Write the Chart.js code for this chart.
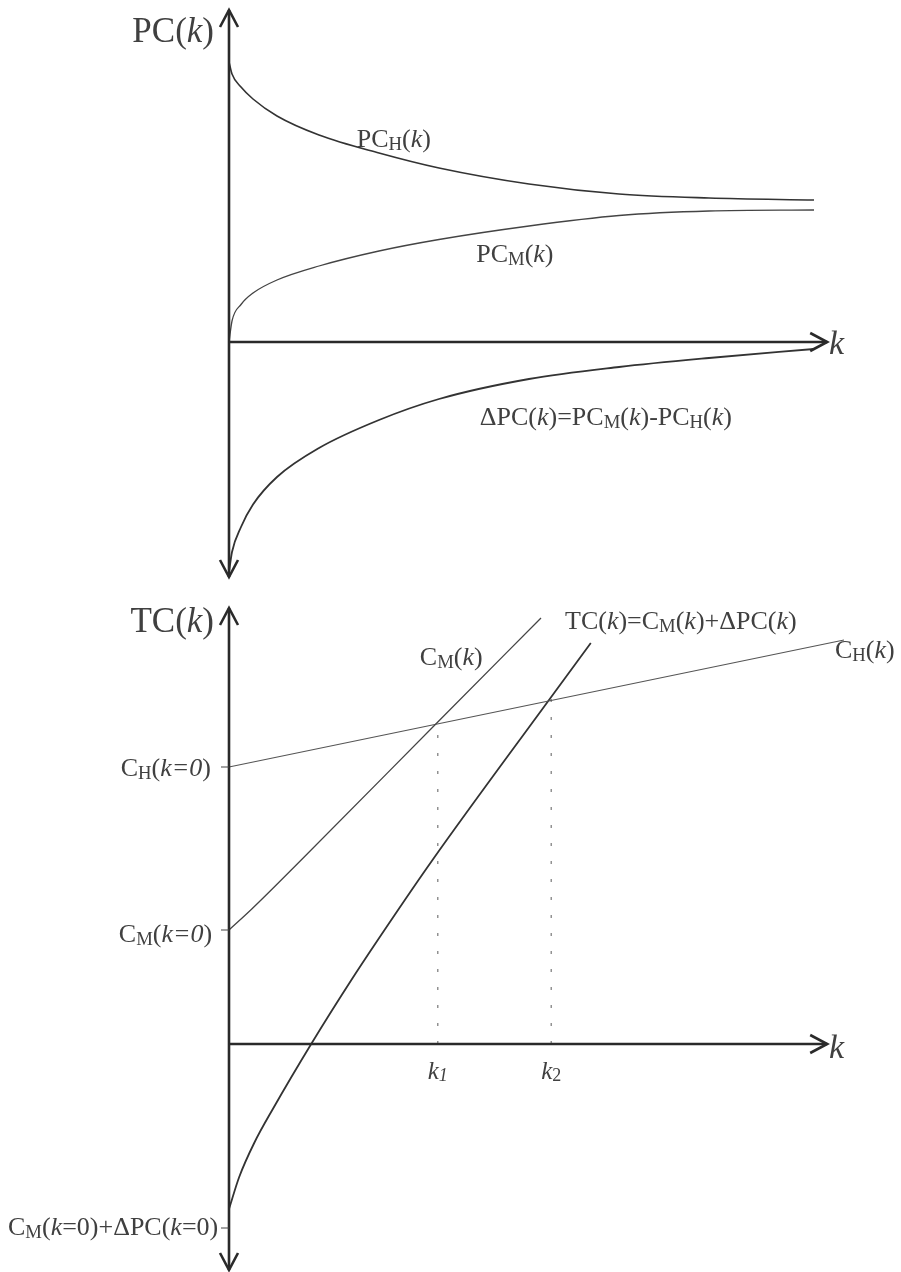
<!DOCTYPE html>
<html>
<head>
<meta charset="utf-8">
<title>PC(k) / TC(k)</title>
<script src="https://cdn.jsdelivr.net/npm/chart.js@4.4.1/dist/chart.umd.min.js"></script>
<style>
  body { margin: 0; background: #fff; }
  canvas { display: block; }
</style>
</head>
<body>
<canvas id="diagram" width="901" height="1272"></canvas>
<script>
// ---- upper panel: private cost curves ----
const kTop = [0, 0.05, 0.2, 0.4, 0.8, 1.5, 2.5, 3.5, 5, 6.5, 8, 9.75];
const pcH = [5.6, 5.36, 5.1, 4.86, 4.52, 4.14, 3.78, 3.48, 3.16, 2.96, 2.88, 2.84];
const pcM = [0, 0.42, 0.75, 0.98, 1.24, 1.52, 1.82, 2.05, 2.32, 2.53, 2.62, 2.64];
const deltaPC = [-4.6, -4.2, -3.7, -3.25, -2.7, -2.12, -1.56, -1.14, -0.74, -0.5, -0.32, -0.14];

// ---- lower panel: total cost lines ----
const cmK = [0, 0.38, 1.22, 3.48, 5.2];
const cmVals = [2.28, 2.7, 3.7, 6.44, 8.52];
const chK = [0, 10.25];
const chVals = [5.54, 8.08];
const tcK = [0, 0.17, 0.42, 0.75, 1.37, 2.05, 2.62, 3.38, 5.37, 6.03];
const tcVals = [-3.3, -2.66, -1.98, -1.26, 0, 1.3, 2.33, 3.66, 6.94, 8.02];
const kCross = [3.48, 5.37];          // k1, k2
const crossVals = [6.44, 6.94];       // C_H at k1, k2
const yTicks = [5.54, 2.28, -3.68];   // C_H(0), C_M(0), C_M(0)+dPC(0)

const SERIF = '"Liberation Serif", "DejaVu Serif", serif';
const INK = '#2a2a2a';
const TXT = '#404040';

function pts(xs, ys) {
  return xs.map((x, i) => ({ x: x, y: ys[i] }));
}

function curve(data, axis, width, color) {
  return {
    data: data,
    yAxisID: axis,
    borderColor: color || '#333',
    borderWidth: width || 1.6,
    pointRadius: 0,
    cubicInterpolationMode: 'monotone',
    fill: false,
    clip: false
  };
}

const datasets = [
  curve(pts(kTop, pcH), 'yTop'),
  curve(pts(kTop, pcM), 'yTop', 1.3, '#444'),
  curve(pts(kTop, deltaPC), 'yTop', 1.8),
  curve(pts(cmK, cmVals), 'yBot', 1.3, '#444'),
  curve(pts(chK, chVals), 'yBot', 1.1, '#555'),
  curve(pts(tcK, tcVals), 'yBot', 1.8)
];
kCross.forEach((k, i) => {
  datasets.push({
    data: [{ x: k, y: 0 }, { x: k, y: crossVals[i] }],
    yAxisID: 'yBot',
    borderColor: '#777',
    borderWidth: 1.2,
    borderDash: [3, 15],
    pointRadius: 0,
    clip: false
  });
});

// text with sub-scripts and italic parts: [text, flags]  (flags: i = italic, s = subscript)
function richWidth(ctx, parts, size) {
  let w = 0;
  parts.forEach(([t, f = '']) => {
    const sz = f.includes('s') ? size * 0.72 : size;
    ctx.font = (f.includes('i') ? 'italic ' : '') + sz + 'px ' + SERIF;
    w += ctx.measureText(t).width;
  });
  return w;
}

function rich(ctx, parts, x, y, size, align) {
  const w = richWidth(ctx, parts, size);
  let cx = align === 'right' ? x - w : align === 'center' ? x - w / 2 : x;
  ctx.textBaseline = 'middle';
  ctx.textAlign = 'left';
  ctx.fillStyle = TXT;
  parts.forEach(([t, f = '']) => {
    const sub = f.includes('s');
    const sz = sub ? size * 0.72 : size;
    ctx.font = (f.includes('i') ? 'italic ' : '') + sz + 'px ' + SERIF;
    ctx.fillText(t, cx, sub ? y + size * 0.18 : y);
    cx += ctx.measureText(t).width;
  });
}

function arrowHead(ctx, x, y, dir) {
  const len = 17, half = 9;
  ctx.beginPath();
  if (dir === 'up') {
    ctx.moveTo(x - half, y + len); ctx.lineTo(x, y); ctx.lineTo(x + half, y + len);
  } else if (dir === 'down') {
    ctx.moveTo(x - half, y - len); ctx.lineTo(x, y); ctx.lineTo(x + half, y - len);
  } else {
    ctx.moveTo(x - len, y - half); ctx.lineTo(x, y); ctx.lineTo(x - len, y + half);
  }
  ctx.stroke();
}

const schematic = {
  id: 'schematic',
  afterDatasetsDraw(chart) {
    const ctx = chart.ctx;
    const xs = chart.scales.x, yt = chart.scales.yTop, yb = chart.scales.yBot;
    const X = v => xs.getPixelForValue(v);
    const T = v => yt.getPixelForValue(v);
    const B = v => yb.getPixelForValue(v);
    const x0 = X(0);

    ctx.save();
    ctx.strokeStyle = INK;
    ctx.lineWidth = 2.6;
    ctx.lineJoin = 'miter';
    ctx.lineCap = 'butt';

    // upper axes
    ctx.beginPath();
    ctx.moveTo(x0, T(6.64)); ctx.lineTo(x0, T(-4.7));
    ctx.moveTo(x0, T(0)); ctx.lineTo(X(9.97), T(0));
    ctx.stroke();
    arrowHead(ctx, x0, T(6.64), 'up');
    arrowHead(ctx, x0, T(-4.7), 'down');
    arrowHead(ctx, X(9.97), T(0), 'right');

    // lower axes
    ctx.beginPath();
    ctx.moveTo(x0, B(8.72)); ctx.lineTo(x0, B(-4.52));
    ctx.moveTo(x0, B(0)); ctx.lineTo(X(9.97), B(0));
    ctx.stroke();
    arrowHead(ctx, x0, B(8.72), 'up');
    arrowHead(ctx, x0, B(-4.52), 'down');
    arrowHead(ctx, X(9.97), B(0), 'right');

    // small ticks on the lower y axis
    ctx.lineWidth = 1.2;
    ctx.strokeStyle = '#444';
    ctx.beginPath();
    yTicks.forEach(v => { ctx.moveTo(x0 - 8, B(v)); ctx.lineTo(x0, B(v)); });
    ctx.stroke();

    // labels, upper panel
    rich(ctx, [['PC('], ['k', 'i'], [')']], X(-0.25), T(6.18), 35, 'right');
    rich(ctx, [['PC'], ['H', 's'], ['('], ['k', 'i'], [')']], X(2.13), T(4.04), 26, 'left');
    rich(ctx, [['PC'], ['M', 's'], ['('], ['k', 'i'], [')']], X(4.12), T(1.74), 26, 'left');
    rich(ctx, [['ΔPC('], ['k', 'i'], [')=PC'], ['M', 's'], ['('], ['k', 'i'], [')-PC'], ['H', 's'], ['('], ['k', 'i'], [')']],
      X(4.18), T(-1.52), 26, 'left');
    rich(ctx, [['k', 'i']], X(10.0), T(-0.06), 34, 'left');

    // labels, lower panel
    rich(ctx, [['TC('], ['k', 'i'], [')']], X(-0.25), B(8.42), 35, 'right');
    rich(ctx, [['C'], ['M', 's'], ['('], ['k', 'i'], [')']], X(3.18), B(7.72), 26, 'left');
    rich(ctx, [['TC('], ['k', 'i'], [')=C'], ['M', 's'], ['('], ['k', 'i'], [')+ΔPC('], ['k', 'i'], [')']],
      X(5.6), B(8.44), 26, 'left');
    rich(ctx, [['C'], ['H', 's'], ['('], ['k', 'i'], [')']], X(10.1), B(7.86), 26, 'left');
    rich(ctx, [['C'], ['H', 's'], ['('], ['k=0', 'i'], [')']], X(-0.3), B(yTicks[0]) + 2, 26, 'right');
    rich(ctx, [['C'], ['M', 's'], ['('], ['k=0', 'i'], [')']], X(-0.28), B(yTicks[1]) + 5, 26, 'right');
    rich(ctx, [['C'], ['M', 's'], ['('], ['k', 'i'], ['=0)+ΔPC('], ['k', 'i'], ['=0)']], X(-0.18), B(yTicks[2]), 26, 'right');
    rich(ctx, [['k', 'i'], ['1', 'is']], X(kCross[0]), B(-0.56), 25, 'center');
    rich(ctx, [['k', 'i'], ['2', 's']], X(kCross[1]), B(-0.56), 25, 'center');
    rich(ctx, [['k', 'i']], X(10.0), B(-0.1), 34, 'left');

    ctx.restore();
  }
};

new Chart(document.getElementById('diagram'), {
  type: 'line',
  data: { datasets: datasets },
  options: {
    responsive: false,
    animation: false,
    events: [],
    layout: { padding: { left: 229, right: 42, top: 0, bottom: 0 } },
    plugins: { legend: { display: false }, tooltip: { enabled: false } },
    scales: {
      x: { type: 'linear', min: 0, max: 10.5, display: false },
      yTop: { type: 'linear', min: -18.6, max: 6.84, display: false },
      yBot: { type: 'linear', min: -4.56, max: 20.88, display: false }
    }
  },
  plugins: [schematic]
});
</script>
</body>
</html>
